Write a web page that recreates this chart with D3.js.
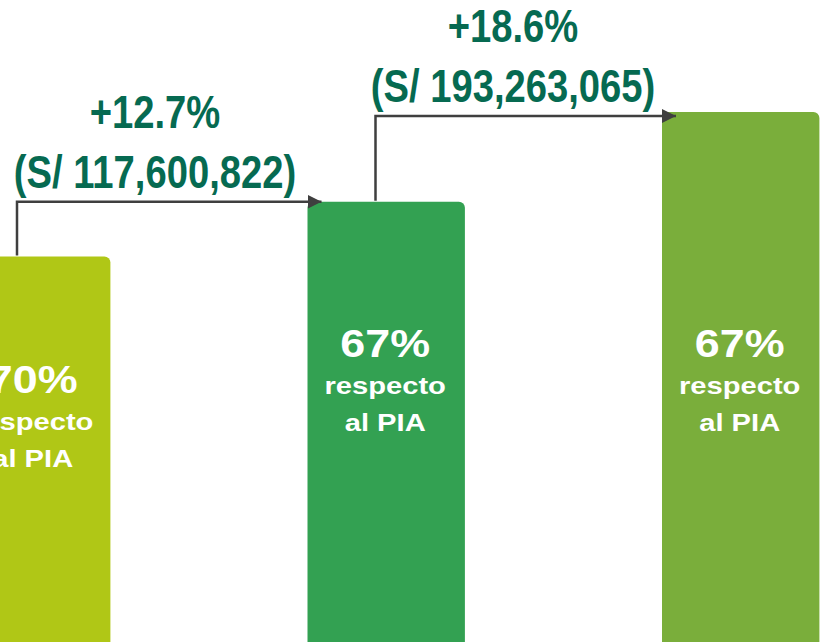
<!DOCTYPE html>
<html>
<head>
<meta charset="utf-8">
<script src="https://cdn.jsdelivr.net/npm/d3@7"></script>
<style>
  html, body { margin: 0; padding: 0; background: #fff; overflow: hidden; }
  svg { display: block; }
</style>
</head>
<body>
<svg id="chart"></svg>
<script>
// Executed budget per period (S/ millions)
const categories = ['periodo1', 'periodo2', 'periodo3'];
const amounts = [926.0, 1043.6, 1236.9];
const pctOfPia = ['70%', '67%', '67%'];
const barColors = ['#b0c716', '#33a152', '#7aae3b'];

// growth annotations between consecutive bars
const growthPct = ['+12.7%', '+18.6%'];
const growthAmount = ['(S/ 117,600,822)', '(S/ 193,263,065)'];

const WIDTH = 820;
const HEIGHT = 642;

let svg = d3.select('#chart')
  .attr('width', WIDTH)
  .attr('height', HEIGHT);

let x = d3.scaleBand()
  .domain(categories)
  .range([-47, 819.4])
  .paddingInner(0.556)
  .paddingOuter(0);

let y = d3.scaleLinear()
  .domain([0, d3.max(amounts)])
  .range([687, 112]);

let data = categories.map((c, i) => ({
  cat: c, value: amounts[i], pct: pctOfPia[i], color: barColors[i]
}));

// bars (bottom runs past the window, only top corners show)
svg.append('g')
  .selectAll('rect')
  .data(data)
  .join('rect')
    .attr('x', d => x(d.cat))
    .attr('y', d => y(d.value))
    .attr('width', x.bandwidth())
    .attr('height', d => y(0) - y(d.value) + 10)
    .attr('rx', 6)
    .attr('fill', d => d.color);

// labels inside bars
let inner = svg.append('g')
  .attr('fill', '#fff')
  .attr('font-family', 'Liberation Sans, Arial, sans-serif')
  .attr('font-weight', 'bold')
  .attr('text-anchor', 'middle');

data.forEach((d, i) => {
  let cx = x(d.cat) + x.bandwidth() / 2 + (i === 0 ? 1 : -1);
  let base = i === 0 ? 393 : 357;
  let lines = [
    { text: d.pct, size: 39, sx: 1.15, dy: 0 },
    { text: 'respecto', size: 24.5, sx: 1.19, dy: 37 },
    { text: 'al PIA', size: 24.5, sx: 1.19, dy: 74 }
  ];
  lines.forEach(l => {
    inner.append('text')
      .attr('transform', `translate(${cx},${base + l.dy}) scale(${l.sx},1)`)
      .attr('font-size', l.size)
      .text(l.text);
  });
});

// growth arrows
svg.append('defs')
  .append('marker')
    .attr('id', 'arrowhead')
    .attr('viewBox', '0 0 10 10')
    .attr('refX', 10)
    .attr('refY', 5)
    .attr('markerWidth', 5.6)
    .attr('markerHeight', 6)
    .attr('markerUnits', 'strokeWidth')
    .attr('orient', 'auto')
  .append('path')
    .attr('d', 'M0,0 L10,5 L0,10 Z')
    .attr('fill', '#3f3f3f');

let arrowOffsets = [64, 68];
let arrowDrop = [0, 4];

growthPct.forEach((pct, i) => {
  let from = data[i];
  let to = data[i + 1];
  let x0 = x(from.cat) + arrowOffsets[i];
  let y0 = y(from.value) - 1;
  let y1 = y(to.value) + arrowDrop[i];
  let x1 = x(to.cat) + 14;

  svg.append('path')
    .attr('d', `M${x0},${y0} V${y1} H${x1}`)
    .attr('fill', 'none')
    .attr('stroke', '#3f3f3f')
    .attr('stroke-width', 2.5)
    .attr('marker-end', 'url(#arrowhead)');

  let cx = i === 0 ? 155 : 513;
  let labels = svg.append('g')
    .attr('fill', '#066a51')
    .attr('font-family', 'Liberation Sans, Arial, sans-serif')
    .attr('font-weight', 'bold')
    .attr('font-size', 46)
    .attr('text-anchor', 'middle');

  labels.append('text')
    .attr('transform', `translate(${cx},${y1 - 74}) scale(0.83,1)`)
    .text(pct);

  labels.append('text')
    .attr('transform', `translate(${cx},${y1 - 14}) scale(0.83,1)`)
    .text(growthAmount[i]);
});
</script>
</body>
</html>
